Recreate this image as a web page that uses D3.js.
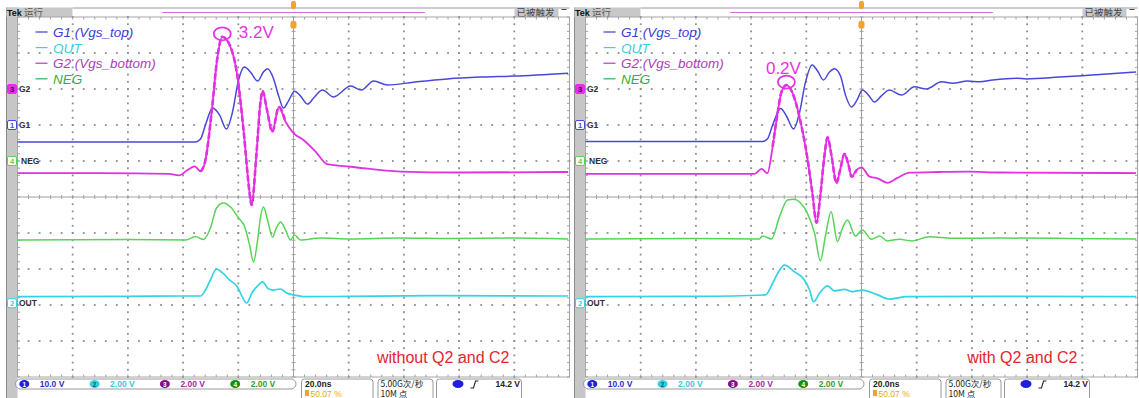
<!DOCTYPE html>
<html>
<head>
<meta charset="utf-8">
<script src="https://cdn.jsdelivr.net/npm/d3@7"></script>
<style>
  body { margin: 0; background: #fff; }
  svg { display: block; font-family: "Liberation Sans", Arial, sans-serif; }
</style>
</head>
<body>
<svg id="scope" width="1139" height="398"></svg>
<script>
const g1Left = [[-100,-4.7],[-60,-4.7],[-35.5,-4.7],[-33.7,-3.9],[-31.9,0],[-29.3,4.7],[-26.8,2.8],[-24.3,-1.1],[-22.1,3.6],[-19.9,12.5],[-17.8,16.1],[-15.6,14.7],[-13.0,12.2],[-10.9,14.7],[-9.4,15.6],[-7.2,12.8],[-5.4,8.1],[-3.6,4.7],[-1.8,6.7],[0.4,9.4],[2.5,8.1],[5.1,5.8],[7.6,7.8],[10.5,9.7],[14.5,7.8],[20.7,10.8],[24.6,9.7],[29.0,12.2],[34.1,11.1],[43.5,11.9],[55.8,12.8],[67.7,13.3],[79.7,13.6],[99.5,14.4]];
const g2Left = [[-100,-4.67],[-70,-4.67],[-45,-4.72],[-41.5,-4.8],[-38.4,-4.5],[-35.8,-4.3],[-33.6,-4.58],[-31.9,-3.94],[-29.5,-1.06],[-27.7,1.61],[-25.8,2.9],[-23.5,2.56],[-20.4,0.78],[-18.1,-2.28],[-15.9,-5.78],[-15.2,-6.44],[-13.4,-3.56],[-12.0,-0.78],[-11.2,-0.11],[-9.6,-1.17],[-7.7,-2.37],[-5.3,-1.0],[-2.9,-1.82],[0.1,-2.46],[3.6,-2.83],[8.0,-3.48],[12.2,-4.18],[20.7,-4.32],[38.8,-4.59],[60,-4.64],[99.5,-4.61]];
const negLeft = [[-100,-4.39],[-60,-4.36],[-39.1,-4.39],[-35.5,-4.2],[-32.6,-4.36],[-30.1,-3.72],[-27.9,-2.61],[-25.4,-2.33],[-22.8,-2.56],[-19.9,-3.17],[-17.8,-3.61],[-15.9,-4.67],[-14.5,-5.61],[-13.0,-4.39],[-12.0,-3.17],[-10.9,-2.56],[-9.4,-3.28],[-7.6,-4.22],[-6.2,-3.72],[-4.7,-3.39],[-2.9,-3.83],[-1.1,-4.39],[0.4,-4.11],[2.5,-4.39],[9.8,-4.28],[20.7,-4.33],[38.8,-4.28],[56.9,-4.31],[80,-4.28],[99.5,-4.33]];
const outLeft = [[-100,0.36],[-60,0.38],[-39.1,0.4],[-33.7,0.4],[-31.9,0.73],[-30.1,1.29],[-27.9,1.9],[-25.7,1.68],[-23.2,1.29],[-20.3,0.9],[-18.5,0.34],[-17.0,0.01],[-14.9,0.62],[-12.7,1.01],[-11.2,1.18],[-9.4,0.84],[-7.6,0.73],[-4.7,0.79],[-2.5,0.57],[0,0.46],[4.3,0.36],[20,0.38],[50,0.42],[99.5,0.4]];

const g1Right = [[-100,-4.6],[-60,-4.6],[-35.9,-4.6],[-34.1,-3.9],[-32.2,0],[-29.3,4.6],[-27.2,2.5],[-24.6,-1.1],[-22.5,3.3],[-20.3,11.9],[-17.9,16.7],[-15.9,15.0],[-13.8,12.5],[-11.6,14.7],[-9.8,15.6],[-7.6,13.6],[-5.8,8.3],[-3.6,5.0],[-1.8,6.7],[0.4,9.7],[2.5,8.3],[4.7,6.4],[7.2,8.1],[10.1,9.7],[14.5,8.3],[19.2,10.6],[23.5,10.0],[29.0,12.0],[33.0,11.6],[38.4,12.2],[42.8,12.0],[47.5,12.5],[56.2,13.0],[59.8,12.8],[71.7,13.3],[83.7,13.9],[99.5,14.7]];
const g2Right = [[-100,-4.72],[-60,-4.72],[-38.8,-4.72],[-36.2,-4.44],[-34.1,-4.68],[-32.2,-3.21],[-30.4,-1.33],[-29.0,-0.17],[-27.2,0.22],[-25.0,-0.22],[-22.5,-1.54],[-19.9,-3.56],[-17.8,-5.78],[-16.3,-7.43],[-14.9,-5.89],[-13.4,-3.67],[-12.3,-2.69],[-10.9,-3.67],[-9.1,-5.22],[-7.6,-4.39],[-6.2,-3.61],[-4.7,-4.22],[-3.6,-4.87],[-1.8,-4.5],[0,-4.35],[2.9,-4.87],[5.8,-4.96],[9.4,-5.21],[13.0,-4.94],[17.4,-4.65],[28.3,-4.61],[38.4,-4.59],[50,-4.64],[99.5,-4.67]];
const negRight = [[-100,-4.33],[-60,-4.31],[-37.0,-4.33],[-35.9,-4.17],[-32.6,-4.33],[-29.7,-3.09],[-26.8,-2.17],[-24.6,-2.13],[-19.6,-2.91],[-17.0,-4.02],[-14.9,-5.54],[-13.0,-4.11],[-11.0,-2.82],[-8.7,-4.48],[-6.9,-3.72],[-5.1,-3.28],[-2.2,-4.17],[0.3,-3.83],[3.6,-4.35],[6.5,-4.17],[9.4,-4.44],[13.8,-4.35],[18.1,-4.44],[24.6,-4.21],[33.0,-4.29],[50.0,-4.28],[75,-4.3],[99.5,-4.33]];
const outRight = [[-100,0.36],[-60,0.38],[-34.8,0.46],[-32.2,1.11],[-30.1,1.73],[-27.9,2.12],[-24.3,1.75],[-20.7,1.29],[-18.8,0.73],[-17.4,0.08],[-15.2,0.55],[-12.3,0.96],[-9.8,0.68],[-6.2,0.77],[-3.3,0.64],[0.3,0.73],[5.4,0.49],[10.1,0.23],[16.3,0.36],[50,0.38],[99.5,0.36]];

// channel setup, order: ch1 G1, ch2 OUT, ch3 G2, ch4 NEG
const channelIds = ["1", "2", "3", "4"];
const channelNames = ["G1", "OUT", "G2", "NEG"];
const legendLabels = ["G1 (Vgs_top)", "OUT", "G2 (Vgs_bottom)", "NEG"];
const voltsPerDiv = [10, 2, 2, 2];
const groundDiv = [2, -2.95, 3, 1];
const scaleLabels = ["10.0 V", "2.00 V", "2.00 V", "2.00 V"];
const traceColors = ["#4848d8", "#33d3e6", "#e230e2", "#55d455"];
const legendColors = ["#3c3cd0", "#3cd0de", "#b03cb6", "#2fb04c"];
const statusColors = ["#3030c8", "#3cc8d8", "#a42aa6", "#2c9e2c"];
const badgeColors = ["#1f1fe0", "#2fd0e0", "#900090", "#109010"];

const panelNotes = ["without Q2 and C2", "with Q2 and C2"];
const peakLabels = ["3.2V", "0.2V"];
const timebase = "20.0ns";
const triggerPos = "50.07 %";
const sampleRate = "5.00G次/秒";
const recordLength = "10M 点";
const triggerLevel = "14.2 V";
const recordWindow = [-47.6, 47.6];

const svg = d3.select("#scope");
const plotTop = 17, plotH = 360, plotW = 552;
const y = d3.scaleLinear().domain([-5, 5]).range([plotTop + plotH, plotTop]);
const cjk = '"Noto Sans CJK SC", "Liberation Sans", sans-serif';

const panels = [
    { x0: 17.5, traces: [g1Left, outLeft, g2Left, negLeft], note: panelNotes[0], peak: peakLabels[0], labelSide: "right" },
    { x0: 585.5, traces: [g1Right, outRight, g2Right, negRight], note: panelNotes[1], peak: peakLabels[1], labelSide: "above" }
];

panels.forEach(drawPanel);

function drawPanel(p) {
    const x0 = p.x0;
    const x = d3.scaleLinear().domain([-100, 100]).range([x0, x0 + plotW]);
    const g = svg.append("g");

    // gray side strip and top status line
    g.append("rect").attr("x", x0 - 11).attr("y", 7.5).attr("width", 11).attr("height", 391)
        .attr("fill", "#c6c6c6");
    g.append("line").attr("x1", x0 - 11).attr("x2", x0 - 11).attr("y1", 7.5).attr("y2", 398)
        .attr("stroke", "#8a8a8a");
    g.append("line").attr("x1", x0 + 55).attr("x2", x0 + plotW).attr("y1", 8).attr("y2", 8)
        .attr("stroke", "#9a9a9a");
    g.append("rect").attr("x", x0 - 11).attr("y", 7.5).attr("width", 66).attr("height", 9.5)
        .attr("fill", "#c8c8c8");
    g.append("text").attr("x", x0 - 10.5).attr("y", 15.5).attr("font-size", 9).attr("font-weight", "bold")
        .attr("fill", "#111").text("Tek");
    g.append("text").attr("x", x0 + 6.5).attr("y", 15.8).attr("font-size", 9.5).attr("font-family", cjk)
        .attr("fill", "#555").text("运行");
    g.append("line").attr("x1", x(recordWindow[0])).attr("x2", x(recordWindow[1]))
        .attr("y1", 12.5).attr("y2", 12.5).attr("stroke", "#d868d8").attr("stroke-width", 1.2);
    g.append("rect").attr("x", x0 + 497).attr("y", 7.5).attr("width", 44).attr("height", 9.5)
        .attr("fill", "#c8c8c8");
    g.append("text").attr("x", x0 + 499).attr("y", 15.8).attr("font-size", 9.5).attr("font-family", cjk)
        .attr("fill", "#444").text("已被触发");
    g.append("line").attr("x1", x0 + 544).attr("x2", x0 + 549).attr("y1", 9.5).attr("y2", 9.5)
        .attr("stroke", "#444");

    // plot border
    g.append("rect").attr("x", x0).attr("y", plotTop).attr("width", plotW).attr("height", plotH)
        .attr("fill", "#fff").attr("stroke", "#a6a6a6");

    // dotted graticule: dots every fifth of a division along the major lines
    const grid = g.append("g").attr("fill", "#8e8e8e");
    d3.range(-80, 81, 20).filter(t => t !== 0).forEach(t => {
        d3.range(-5, 5.01, 0.2).forEach(d => {
            grid.append("rect").attr("x", x(t) - 0.9).attr("y", y(d) - 0.9).attr("width", 1.8).attr("height", 1.8);
        });
    });
    d3.range(-4, 5, 1).filter(d => d !== 0).forEach(d => {
        d3.range(-100, 100.1, 4).forEach(t => {
            grid.append("rect").attr("x", x(t) - 0.9).attr("y", y(d) - 0.9).attr("width", 1.8).attr("height", 1.8);
        });
    });

    // centre cross with minor ticks, ticks on the frame too
    const cross = g.append("g").attr("stroke", "#a0a0a0");
    cross.append("line").attr("x1", x0).attr("x2", x0 + plotW).attr("y1", y(0)).attr("y2", y(0));
    cross.append("line").attr("x1", x(0)).attr("x2", x(0)).attr("y1", plotTop).attr("y2", plotTop + plotH);
    d3.range(-100, 100.1, 4).forEach(t => {
        cross.append("line").attr("x1", x(t)).attr("x2", x(t)).attr("y1", y(0) - 2).attr("y2", y(0) + 2);
        cross.append("line").attr("x1", x(t)).attr("x2", x(t)).attr("y1", plotTop).attr("y2", plotTop + 2.5);
        cross.append("line").attr("x1", x(t)).attr("x2", x(t)).attr("y1", plotTop + plotH - 2.5).attr("y2", plotTop + plotH);
    });
    d3.range(-5, 5.01, 0.2).forEach(d => {
        cross.append("line").attr("x1", x(0) - 2).attr("x2", x(0) + 2).attr("y1", y(d)).attr("y2", y(d));
        cross.append("line").attr("x1", x0).attr("x2", x0 + 2.5).attr("y1", y(d)).attr("y2", y(d));
        cross.append("line").attr("x1", x0 + plotW - 2.5).attr("x2", x0 + plotW).attr("y1", y(d)).attr("y2", y(d));
    });

    // trigger position marker
    const trig = g.append("g").attr("fill", "#f0a428");
    trig.append("rect").attr("x", x(0) - 2.5).attr("y", 1).attr("width", 5).attr("height", 8).attr("rx", 2);
    trig.append("rect").attr("x", x(0) - 3).attr("y", 21).attr("width", 6).attr("height", 7.5).attr("rx", 2);

    // waveforms
    const traces = g.append("g").attr("fill", "none").attr("stroke-linejoin", "round");
    [0, 3, 1, 2].forEach(c => {
        const line = d3.line()
            .x(d => x(d[0]))
            .y(d => y(groundDiv[c] + d[1] / voltsPerDiv[c]))
            .curve(d3.curveMonotoneX);
        traces.append("path").datum(p.traces[c]).attr("d", line)
            .attr("stroke", traceColors[c]).attr("stroke-width", c === 2 ? 1.8 : (c === 1 ? 1.7 : 1.5));
        if (c === 2) {
            // fast edges of G2 look dashed on the scope
            traces.append("path").datum(p.traces[c].filter(d => d[0] > -34 && d[0] < 0)).attr("d", line)
                .attr("stroke", traceColors[c]).attr("stroke-width", 2.6).attr("stroke-dasharray", "6 2.5");
        }
    });

    // peak annotation on G2
    const peak = d3.greatest(p.traces[2], d => d[1]);
    const cx = x(peak[0]);
    const cy = y(groundDiv[2] + peak[1] / voltsPerDiv[2]) - 3;
    g.append("ellipse").attr("cx", cx).attr("cy", cy).attr("rx", 8.5).attr("ry", 6.5)
        .attr("fill", "none").attr("stroke", "#e632e6").attr("stroke-width", 1.8);
    g.append("text")
        .attr("x", p.labelSide === "right" ? cx + 16.5 : cx - 3)
        .attr("y", p.labelSide === "right" ? cy + 4.5 : cy - 8.5)
        .attr("text-anchor", p.labelSide === "right" ? "start" : "middle")
        .attr("font-size", 17).attr("fill", "#e632e6").text(p.peak);

    // legend
    legendLabels.forEach((lab, i) => {
        const ly = 32 + i * 15.6;
        g.append("line").attr("x1", x0 + 18).attr("x2", x0 + 30).attr("y1", ly).attr("y2", ly)
            .attr("stroke", legendColors[i]).attr("stroke-width", 1.2);
        g.append("text").attr("x", x0 + 35.5).attr("y", ly + 5).attr("font-size", 13.5)
            .attr("font-style", "italic").attr("fill", legendColors[i]).text(lab);
    });

    // ground markers on the left strip
    [2, 0, 3, 1].forEach(c => {
        const gy = y(groundDiv[c]);
        const filled = c === 2;
        g.append("rect").attr("x", x0 - 10).attr("y", gy - 4.5).attr("width", 9).attr("height", 9).attr("rx", 1.5)
            .attr("fill", filled ? traceColors[c] : "#fff").attr("stroke", traceColors[c]).attr("stroke-width", 1);
        g.append("text").attr("x", x0 - 5.5).attr("y", gy + 3).attr("text-anchor", "middle")
            .attr("font-size", 7.5).attr("font-weight", "bold").attr("fill", filled ? "#4a004a" : traceColors[c])
            .text(channelIds[c]);
        g.append("text").attr("x", x0 + (c === 3 ? 3.5 : 1.5)).attr("y", gy + 3.2)
            .attr("font-size", 8.5).attr("font-weight", "bold").attr("fill", "#333").text(channelNames[c]);
    });

    // red caption
    g.append("text").attr("x", x0 + 492).attr("y", 363).attr("text-anchor", "end")
        .attr("font-size", 16).attr("fill", "#e4262a").text(p.note);

    // bottom readout
    const sb = g.append("g").attr("font-size", 8.5).attr("font-weight", "bold");
    sb.append("rect").attr("x", x0 - 2).attr("y", 379).attr("width", 280.5).attr("height", 10).attr("rx", 5)
        .attr("fill", "#fff").attr("stroke", "#9a9a9a");
    scaleLabels.forEach((lab, i) => {
        const bx = x0 + 6.8 + i * 70.3;
        sb.append("ellipse").attr("cx", bx).attr("cy", 384).attr("rx", 5).attr("ry", 4).attr("fill", badgeColors[i]);
        sb.append("text").attr("x", bx).attr("y", 386.5).attr("text-anchor", "middle").attr("font-size", 6.5)
            .attr("fill", i === 1 ? "#0a6070" : "#fff").text(channelIds[i]);
        sb.append("text").attr("x", bx + 15.5).attr("y", 387).attr("fill", statusColors[i]).text(lab);
    });
    [[284, 71.5], [360.5, 55], [419, 85]].forEach(b => {
        sb.append("rect").attr("x", x0 + b[0]).attr("y", 379).attr("width", b[1]).attr("height", 22).attr("rx", 3)
            .attr("fill", "#fff").attr("stroke", "#9a9a9a");
    });
    sb.append("text").attr("x", x0 + 287.5).attr("y", 386.5).attr("fill", "#222").text(timebase);
    sb.append("rect").attr("x", x0 + 287.5).attr("y", 390).attr("width", 4).attr("height", 6).attr("fill", "#f0a428");
    sb.append("text").attr("x", x0 + 293).attr("y", 396.5).attr("fill", "#f0a428").attr("font-weight", "normal").text(triggerPos);
    sb.append("text").attr("x", x0 + 363).attr("y", 386.5).attr("fill", "#222").attr("font-family", cjk)
        .attr("font-weight", "normal").attr("font-size", 8.5).text(sampleRate);
    sb.append("text").attr("x", x0 + 363).attr("y", 396.5).attr("fill", "#222").attr("font-family", cjk)
        .attr("font-weight", "normal").attr("font-size", 8.5).text(recordLength);
    sb.append("ellipse").attr("cx", x0 + 440.5).attr("cy", 384).attr("rx", 5.5).attr("ry", 4).attr("fill", badgeColors[0]);
    sb.append("path").attr("d", `M${x0 + 453},388 L${x0 + 456},388 L${x0 + 458},381 L${x0 + 461},381`)
        .attr("fill", "none").attr("stroke", "#222").attr("stroke-width", 1.1);
    sb.append("text").attr("x", x0 + 502.5).attr("y", 387).attr("text-anchor", "end").attr("fill", "#222").text(triggerLevel);
}
</script>
</body>
</html>
